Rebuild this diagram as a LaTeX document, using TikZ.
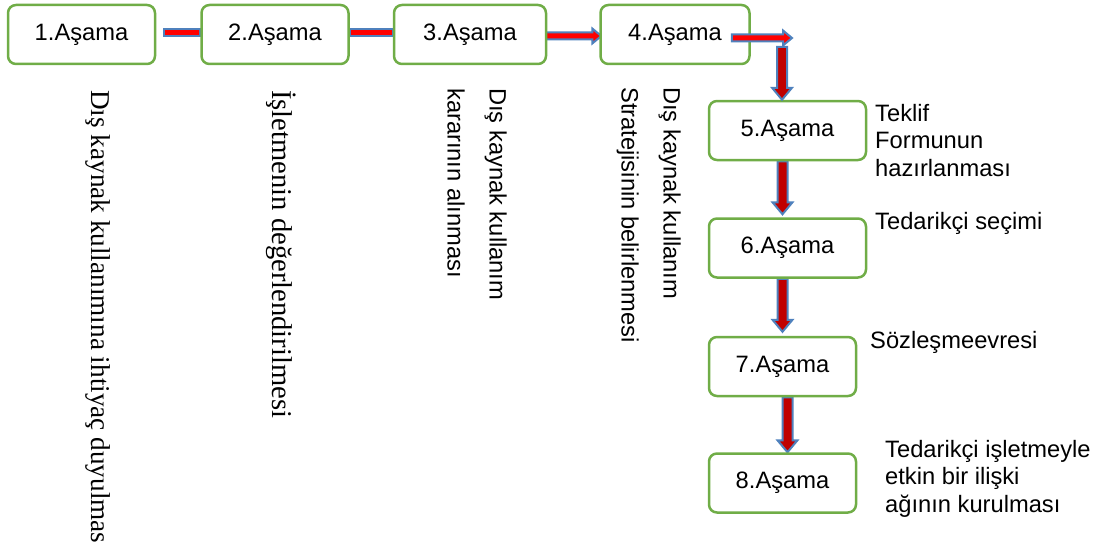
\documentclass[tikz,border=0pt]{standalone}
\usepackage{fontspec}
\setmainfont{Liberation Serif}
\newfontfamily\arialfont{Liberation Sans}
\usepackage{xcolor}
\definecolor{stagegreen}{RGB}{112,173,71}
\definecolor{arrowblue}{RGB}{79,129,189}
\definecolor{barred}{RGB}{255,0,0}
\definecolor{darkred}{RGB}{192,0,0}
\usepackage{tikz}
\usetikzlibrary{positioning, calc, backgrounds}

% block arrows: #1 start, #2 tip, #3 fill
\newcommand{\hblock}[3]{%
  \draw[blockline, fill=#3] ($#1+(0,-3.5)$) -- ($#2+(-9,-3.5)$) -- ($#2+(-9,-7.5)$)
    -- #2 -- ($#2+(-9,7.5)$) -- ($#2+(-9,3.5)$) -- ($#1+(0,3.5)$) -- cycle;}
\newcommand{\vblock}[3]{%
  \draw[blockline, fill=#3] ($#1+(-5,0)$) -- ($#2+(-5,12)$) -- ($#2+(-10,12)$)
    -- #2 -- ($#2+(10,12)$) -- ($#2+(5,12)$) -- ($#1+(5,0)$) -- cycle;}

\begin{document}
\begin{tikzpicture}[
  x=1pt, y=1pt,
  % node styles
  stagebox/.style = {rectangle, rounded corners=8pt, draw=stagegreen, line width=2.5pt,
                     fill=white, minimum width=147pt, minimum height=59pt,
                     font=\arialfont\fontsize{23.7}{27}\selectfont},
  sidetext/.style = {anchor=base west, inner sep=0pt, align=left,
                     font=\arialfont\fontsize{23.7}{27.5}\selectfont},
  vserif/.style   = {rotate=-90, anchor=north west, inner sep=0pt, align=left},
  vsans/.style    = {rotate=-90, anchor=north west, inner sep=0pt, align=left,
                     font=\arialfont\fontsize{23.7}{42}\selectfont},
  % arrow styles
  blockline/.style = {draw=arrowblue, line width=2pt, line join=miter},
]
\useasboundingbox (0,0) rectangle (1100,-543);

%% Top row
\node[stagebox] at (81.5,-34.5)           (b1) {1.Aşama};
\node[stagebox, right=44pt of b1]         (b2) {2.Aşama};
\node[stagebox, right=43pt of b2, minimum width=152pt] (b3) {3.Aşama};
\node[stagebox, right=52pt of b3, minimum width=149pt] (b4) {4.Aşama};

%% Right column
\node[stagebox, minimum width=157pt] at (787.5,-130.5) (b5) {5.Aşama};
\node[stagebox, minimum width=157pt, below=56pt of b5]  (b6) {6.Aşama};
\node[stagebox, below=57pt of b6.south west, anchor=north west] (b7) {7.Aşama};
\node[stagebox, below=55pt of b7]          (b8) {8.Aşama};

%% Arrows behind the boxes
\begin{scope}[on background layer]
  \draw[blockline, fill=barred] ($(b1.east)+(8,-1.5)$) rectangle ($(b2.west)+(0,5.5)$);
  \draw[blockline, fill=barred] ($(b2.east)+(0,-1.5)$) rectangle ($(b3.west)+(0,5.5)$);
  \hblock{([xshift=-5pt,yshift=-1.5pt]b3.east)}{([xshift=2pt,yshift=-1.5pt]b4.west)}{barred}
  \vblock{([xshift=-5pt]b5.south)}{([xshift=-5pt,yshift=3pt]b6.north)}{darkred}
  \vblock{([xshift=-5pt]b6.south)}{([yshift=4pt]b7.north)}{darkred}
  \vblock{([xshift=5pt]b7.south)}{([xshift=5pt]b8.north)}{darkred}
\end{scope}

%% Turn from stage 4 down to stage 5
\coordinate (turn)  at (792,-38);
\coordinate (drop)  at (782,-47);
\coordinate (drop5) at (drop |- b5.north);
\hblock{([xshift=-19pt,yshift=-3.5pt]b4.east)}{(turn)}{barred}
\vblock{(drop)}{(drop5)}{darkred}

%% Vertical labels under the top row
\node[vserif, font=\fontsize{27.2}{33}\selectfont] at (111,-90) (t1)
  {Dış kaynak kullanımına ihtiyaç duyulması};
\node[vserif, font=\fontsize{28.6}{34}\selectfont] at (296,-90) (t2)
  {İşletmenin değerlendirilmesi};
\node[vsans]  at (507,-88) (t3) {Dış kaynak kullanım\\kararının alınması};
\node[vsans]  at (681,-87) (t4) {Dış kaynak kullanım\\Stratejisinin belirlenmesi};

%% Labels beside the right column
\node[sidetext] at (875,-176) (t5) {Teklif\\Formunun\\hazırlanması};
\node[sidetext] at (875,-229) (t6) {Tedarikçi seçimi};
\node[sidetext] at (870,-348) (t7) {Sözleşmeevresi};
\node[sidetext] at (885,-512) (t8) {Tedarikçi işletmeyle\\etkin bir ilişki\\ağının kurulması};

\end{tikzpicture}
\end{document}
